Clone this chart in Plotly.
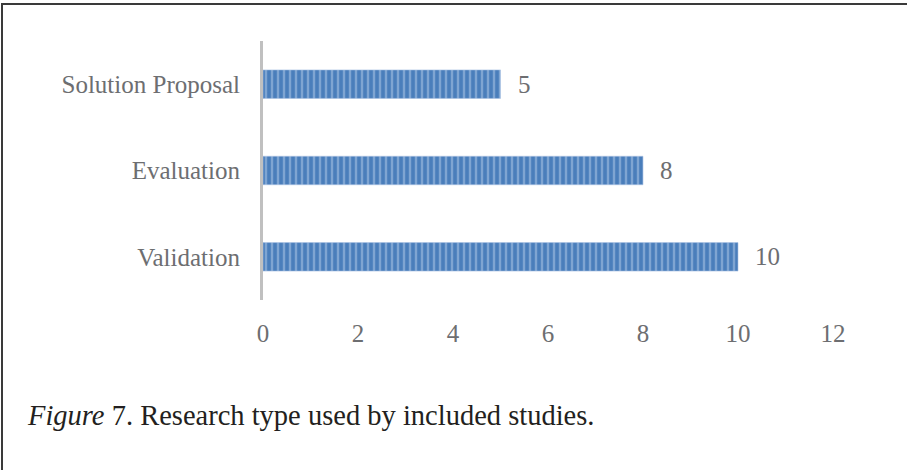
import plotly.graph_objects as go

# Research types (bottom to top) and number of studies
categories = ["Validation", "Evaluation", "Solution Proposal"]
counts = [10, 8, 5]
x_ticks = [0, 2, 4, 6, 8, 10, 12]

W, H = 907, 470
L, R, T, B = 263, 74, 41, 170
pw, ph = W - L - R, H - T - B

def px_x(p):
    return (p - L) / pw

def px_y(p):
    return (H - B - p) / ph

label_font = dict(family="Liberation Serif, DejaVu Serif, serif", size=25, color="#6d6e71")

fig = go.Figure()
fig.add_trace(go.Bar(
    y=categories,
    x=counts,
    orientation="h",
    width=0.33,
    marker=dict(
        color="#4a7ebb",
        line=dict(color="#a9c1e2", width=0.6),
        pattern=dict(shape="|", fgcolor="#b3cbea", bgcolor="#4a7ebb", size=6, solidity=0.4),
    ),
    hoverinfo="skip",
))

# value labels beside each bar
for c, v in zip(categories, counts):
    fig.add_annotation(x=v, y=c, text=str(v), showarrow=False, xanchor="left",
                       xshift=15, font=label_font)

# caption
fig.add_annotation(xref="paper", yref="paper", x=px_x(25), y=px_y(415),
                   xanchor="left", yanchor="middle", showarrow=False,
                   text="<i>Figure</i> 7. Research type used by included studies.",
                   font=dict(family="Liberation Serif, Times New Roman, serif", size=28.5, color="#231f20"))

# frame lines (top and left)
fig.add_shape(type="line", xref="paper", yref="paper", x0=px_x(1), x1=px_x(907),
              y0=px_y(4), y1=px_y(4), line=dict(color="#3a3a3a", width=2))
fig.add_shape(type="line", xref="paper", yref="paper", x0=px_x(2), x1=px_x(2),
              y0=px_y(4), y1=px_y(470), line=dict(color="#3a3a3a", width=2))

fig.update_layout(
    width=W, height=H,
    margin=dict(l=L, r=R, t=T, b=B),
    paper_bgcolor="white", plot_bgcolor="white",
    showlegend=False,
    xaxis=dict(range=[0, 12], tickvals=x_ticks, showgrid=False, zeroline=False,
               showline=False, ticks="outside", ticklen=11, tickcolor="rgba(0,0,0,0)",
               tickfont=label_font, fixedrange=True),
    yaxis=dict(range=[-0.5, 2.5], showgrid=False, zeroline=False, showline=True,
               linecolor="#c0c0c0", linewidth=3, ticks="outside", ticklen=15,
               tickcolor="rgba(0,0,0,0)", tickfont=label_font, fixedrange=True),
)

fig.write_html("out.html", config={"displayModeBar": False})
